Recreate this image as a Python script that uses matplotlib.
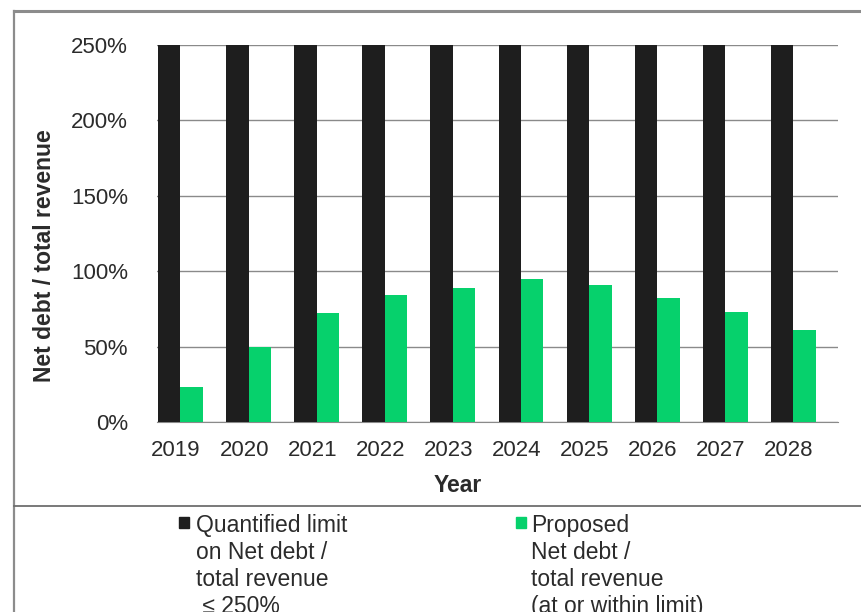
import matplotlib.pyplot as plt
import matplotlib.patches as mpatches
import matplotlib.lines as mlines
import numpy as np

plt.rcParams['font.family'] = ['Liberation Sans', 'DejaVu Sans']

years = ['2019', '2020', '2021', '2022', '2023', '2024', '2025', '2026', '2027', '2028']
limit = [250, 250, 250, 250, 250, 250, 250, 250, 250, 250]
proposed = [23, 50, 72, 84, 89, 95, 91, 82, 73, 61]
yticks = [0, 50, 100, 150, 200, 250]

limit_label = 'Quantified limit\non Net debt /\ntotal revenue\n ≤ 250%'
proposed_label = 'Proposed\nNet debt /\ntotal revenue\n(at or within limit)'

black = '#1e1e1e'
green = '#06d16c'
text_col = '#2b2b2b'

W, H = 861, 612
fig = plt.figure(figsize=(W / 100, H / 100), dpi=100)
ax = fig.add_axes([157 / W, 1 - 422 / H, 681 / W, 377 / H])

# each year slot holds the limit bar then the proposed bar, left of centre
x = np.arange(len(years))
w = 0.33
start = x - 0.485
ax.bar(start, limit, width=w, align='edge', color=black, zorder=3)
ax.bar(start + w, proposed, width=w, align='edge', color=green, zorder=3)
ax.set_xlim(-0.5, 9.5)
ax.set_ylim(0, 250)

ax.set_yticks(yticks)
ax.set_yticklabels([f'{v}%' for v in yticks])
ax.yaxis.grid(True, color='#8a8a8a', linewidth=1.0, zorder=0)
ax.set_xticks(x - 0.22)
ax.set_xticklabels(years)
ax.tick_params(axis='both', length=0, labelsize=16, labelcolor=text_col)
ax.tick_params(axis='y', pad=21)
ax.tick_params(axis='x', pad=13)
for s in ['top', 'right', 'left']:
    ax.spines[s].set_visible(False)
ax.spines['bottom'].set_color('#8a8a8a')

fig.text(458 / W, 1 - 486 / H, 'Year', fontsize=16.5, fontweight='bold',
         color=text_col, ha='center', va='center')
fig.text(45 / W, 1 - 256 / H, 'Net debt / total revenue', fontsize=16.5,
         fontweight='bold', color=text_col, rotation=90, ha='center', va='center')

# outer frame and separator above the legend
fig.add_artist(mlines.Line2D([14 / W, 1], [1 - 11 / H, 1 - 11 / H],
                             color='#8c8c8c', linewidth=2.2))
fig.add_artist(mlines.Line2D([14 / W, 14 / W], [0, 1 - 11 / H],
                             color='#8c8c8c', linewidth=1.6))
fig.add_artist(mlines.Line2D([14 / W, 1], [1 - 506 / H, 1 - 506 / H],
                             color='#6e6e6e', linewidth=1.3))

# legend entries
for mx, tx, col, label in [(179, 196, black, limit_label),
                           (516, 531, green, proposed_label)]:
    fig.add_artist(mpatches.Rectangle((mx / W, 1 - 528 / H), 10 / W, 11 / H,
                                      color=col, transform=fig.transFigure))
    for i, line in enumerate(label.split('\n')):
        fig.text(tx / W, 1 - (532 + 27 * i) / H, line, fontsize=16.5,
                 color=text_col, ha='left', va='baseline')

fig.savefig('out.png', dpi=100)
